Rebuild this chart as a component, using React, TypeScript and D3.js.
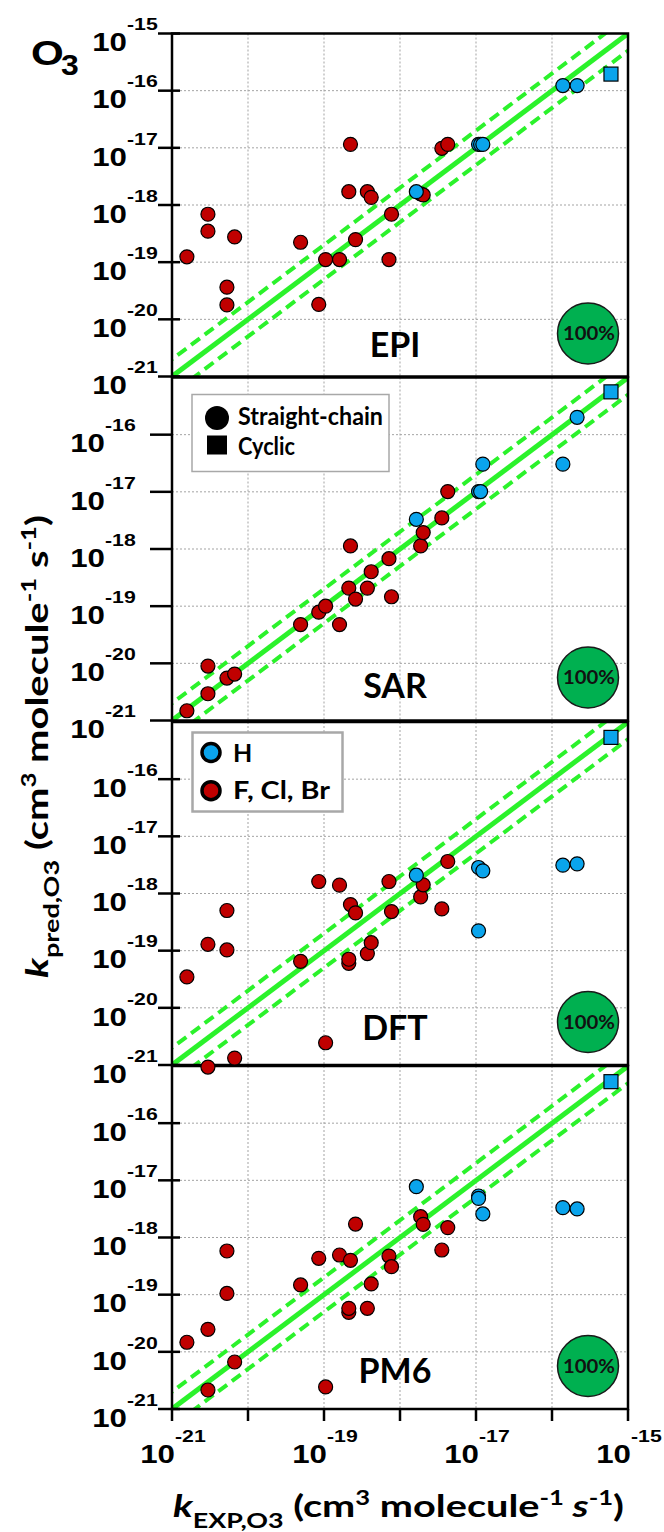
import React from "react";
import * as d3 from "d3";

// ---------- data (k in cm3 molecule-1 s-1) ----------
const panelNames = ["EPI", "SAR", "DFT", "PM6"];
const xTickExps = [-21, -20, -19, -18, -17, -16, -15];
const xLabelExps = [-21, -19, -17, -15];
const gridExps = [-20, -19, -18, -17, -16];
const badgeText = "100%";
const legendShape = ["Straight-chain", "Cyclic"];
const legendSubst = ["H", "F, Cl, Br"];

// [kEXP, kPRED]
const epiRed: [number, number][] = [
  [1.57e-21, 1.24e-19], [2.97e-21, 6.89e-19], [2.97e-21, 3.48e-19], [5.28e-21, 3.65e-20],
  [5.28e-21, 1.79e-20], [6.67e-21, 2.76e-19], [4.92e-20, 2.23e-19], [8.53e-20, 1.82e-20],
  [1.05e-19, 1.11e-19], [1.6e-19, 1.11e-19], [2.12e-19, 1.71e-18], [2.23e-19, 1.15e-17],
  [2.6e-19, 2.48e-19], [3.72e-19, 1.71e-18], [4.18e-19, 1.36e-18], [7.16e-19, 1.11e-19],
  [7.73e-19, 6.89e-19], [1.87e-18, 1.56e-18], [2.02e-18, 1.5e-18], [3.55e-18, 9.8e-18],
  [4.25e-18, 1.15e-17],
];
const epiBlue: [number, number][] = [
  [1.64e-18, 1.71e-18], [1.08e-17, 1.15e-17], [1.15e-17, 1.15e-17], [1.23e-17, 1.15e-17],
  [1.39e-16, 1.23e-16], [2.14e-16, 1.23e-16],
];
const epiCyclic: [number, number][] = [[5.97e-16, 1.95e-16]];

const sarRed: [number, number][] = [
  [1.57e-21, 1.48e-21], [2.97e-21, 8.97e-21], [2.97e-21, 2.94e-21], [5.28e-21, 5.53e-21],
  [6.67e-21, 6.5e-21], [4.92e-20, 4.76e-20], [8.53e-20, 7.85e-20], [1.05e-19, 1.0e-19],
  [1.6e-19, 4.76e-20], [2.12e-19, 2.07e-19], [2.23e-19, 1.13e-18], [2.6e-19, 1.33e-19],
  [3.72e-19, 2.07e-19], [4.18e-19, 4.0e-19], [7.16e-19, 6.76e-19], [7.73e-19, 1.46e-19],
  [1.87e-18, 1.13e-18], [2.02e-18, 1.94e-18], [3.55e-18, 3.5e-18], [4.25e-18, 1.01e-17],
];
const sarBlue: [number, number][] = [
  [1.64e-18, 3.31e-18], [1.08e-17, 1.01e-17], [1.15e-17, 1.01e-17], [1.23e-17, 3.05e-17],
  [1.39e-16, 3.05e-17], [2.14e-16, 2.01e-16],
];
const sarCyclic: [number, number][] = [[5.97e-16, 5.61e-16]];

const dftRed: [number, number][] = [
  [1.57e-21, 3.47e-20], [2.97e-21, 1.29e-19], [2.97e-21, 9.2e-22], [5.28e-21, 5.04e-19],
  [5.28e-21, 1.03e-19], [6.67e-21, 1.32e-21], [4.92e-20, 6.52e-20], [8.53e-20, 1.62e-18],
  [1.05e-19, 2.45e-21], [1.6e-19, 1.4e-18], [2.23e-19, 6.41e-19], [2.12e-19, 6.01e-20],
  [2.12e-19, 7.08e-20], [2.6e-19, 4.58e-19], [3.72e-19, 8.89e-20], [4.18e-19, 1.38e-19],
  [7.16e-19, 1.62e-18], [7.73e-19, 4.83e-19], [1.87e-18, 8.73e-19], [2.02e-18, 1.42e-18],
  [3.55e-18, 5.38e-19], [4.25e-18, 3.63e-18],
];
const dftBlue: [number, number][] = [
  [1.64e-18, 2.09e-18], [1.08e-17, 2.85e-18], [1.23e-17, 2.49e-18], [1.08e-17, 2.22e-19],
  [1.39e-16, 3.13e-18], [2.14e-16, 3.3e-18],
];
const dftCyclic: [number, number][] = [[5.97e-16, 5.38e-16]];

const pm6Red: [number, number][] = [
  [1.57e-21, 1.47e-20], [2.97e-21, 2.48e-20], [2.97e-21, 2.15e-21], [5.28e-21, 5.81e-19],
  [5.28e-21, 1.05e-19], [6.67e-21, 6.64e-21], [4.92e-20, 1.48e-19], [8.53e-20, 4.32e-19],
  [1.05e-19, 2.43e-21], [1.6e-19, 4.94e-19], [2.12e-19, 4.91e-20], [2.12e-19, 5.77e-20],
  [2.23e-19, 3.99e-19], [2.6e-19, 1.72e-18], [3.72e-19, 5.77e-20], [4.18e-19, 1.54e-19],
  [7.16e-19, 4.74e-19], [7.73e-19, 3.09e-19], [1.87e-18, 2.31e-18], [2.02e-18, 1.7e-18],
  [3.55e-18, 6.04e-19], [4.25e-18, 1.49e-18],
];
const pm6Blue: [number, number][] = [
  [1.64e-18, 7.74e-18], [1.08e-17, 5.32e-18], [1.08e-17, 4.84e-18], [1.23e-17, 2.58e-18],
  [1.39e-16, 3.33e-18], [2.14e-16, 3.16e-18],
];
const pm6Cyclic: [number, number][] = [[5.97e-16, 5.32e-16]];

const redSets = [epiRed, sarRed, dftRed, pm6Red];
const blueSets = [epiBlue, sarBlue, dftBlue, pm6Blue];
const cyclicSets = [epiCyclic, sarCyclic, dftCyclic, pm6Cyclic];
const bandFactor = 2;

// ---------- layout / style ----------
const W = 664;
const H = 1532;
const X0 = 172;
const X1 = 628;
const PH = 343;
const panelTops = [33.5, 377.5, 722, 1066];
const labelDy = [323.5, 320.5, 318, 317];
const RED = "#c00000";
const BLUE = "#0aa4ec";
const GREEN = "#2bf22b";
const BADGE = "#00b050";
const ARIAL = "'Liberation Sans', Arial, sans-serif";
const CAL = "Lato, 'Open Sans', sans-serif";

const xScale = d3.scaleLog().domain([1e-21, 1e-15]).range([X0, X1]);
const yScaleFor = (i: number) =>
  d3.scaleLog().domain([1e-21, 1e-15]).range([panelTops[i] + PH, panelTops[i]]);

function Pow({ x, y, exp }: { x: number; y: number; exp: number }) {
  return (
    <g fontFamily={ARIAL} fontWeight="bold" fill="#000">
      <text transform={`translate(${x},${y}) scale(1.25,1)`} textAnchor="end" fontSize={25}>
        10
      </text>
      <text transform={`translate(${x},${y - 21}) scale(1.25,1)`} textAnchor="start" fontSize={17}>
        {String(exp)}
      </text>
    </g>
  );
}

function Panel({ i }: { i: number }) {
  const top = panelTops[i];
  const bottom = top + PH;
  const y = yScaleFor(i);
  const clipId = `clip${i}`;
  const line = d3
    .line<[number, number]>()
    .x((d) => xScale(d[0]))
    .y((d) => y(d[1]));
  const yExps = i === 0 ? [-15, -16, -17, -18, -19, -20, -21] : [-16, -17, -18, -19, -20, -21];
  const labX = i === 1 ? 105 : 127;
  const tick = i === 1 ? [150, 172] : [158, 180];
  const cy = top + 300;
  return (
    <g>
      <defs>
        <clipPath id={clipId}>
          <rect x={X0} y={top} width={X1 - X0} height={PH} />
        </clipPath>
      </defs>
      {/* grid */}
      <g stroke="#a3a3a3" strokeWidth={1} strokeDasharray="2,2">
        {gridExps.map((e) => (
          <line key={"v" + e} x1={xScale(10 ** e)} x2={xScale(10 ** e)} y1={top} y2={bottom} />
        ))}
        {gridExps.map((e) => (
          <line key={"h" + e} x1={X0} x2={X1} y1={y(10 ** e)} y2={y(10 ** e)} />
        ))}
      </g>
      {/* 1:1 and factor lines */}
      <g clipPath={`url(#${clipId})`} fill="none" stroke={GREEN}>
        <path d={line([[1e-22, 1e-22], [1e-14, 1e-14]]) || ""} strokeWidth={5} />
        <path
          d={line([[1e-22, 1e-22 * bandFactor], [1e-14, 1e-14 * bandFactor]]) || ""}
          strokeWidth={4}
          strokeDasharray="11,6"
        />
        <path
          d={line([[1e-22, 1e-22 / bandFactor], [1e-14, 1e-14 / bandFactor]]) || ""}
          strokeWidth={4}
          strokeDasharray="11,6"
        />
      </g>
      {/* legends */}
      {i === 1 && (
        <g>
          <rect x={192} y={394.5} width={197} height={77} fill="#fff" stroke="#a8a8a8" strokeWidth={1.5} />
          <circle cx={217} cy={418} r={12} fill="#000" />
          <rect x={207} y={435.5} width={20} height={19} fill="#000" />
          <g fontFamily={CAL} fontWeight="bold" fontSize={24} fill="#000">
            <text x={238} y={425} textLength={145} lengthAdjust="spacingAndGlyphs">
              {legendShape[0]}
            </text>
            <text x={238} y={455} textLength={57} lengthAdjust="spacingAndGlyphs">
              {legendShape[1]}
            </text>
          </g>
        </g>
      )}
      {i === 2 && (
        <g>
          <rect x={192.5} y={732.5} width={150} height={79} fill="#fff" stroke="#a8a8a8" strokeWidth={2.5} />
          <circle cx={211} cy={752.5} r={9} fill={BLUE} stroke="#000" strokeWidth={3.5} />
          <circle cx={211} cy={790.7} r={9} fill={RED} stroke="#000" strokeWidth={3.5} />
          <g fontFamily={CAL} fontWeight="bold" fontSize={25} fill="#000">
            <text x={233} y={761.5}>
              {legendSubst[0]}
            </text>
            <text x={233} y={799} textLength={97} lengthAdjust="spacingAndGlyphs">
              {legendSubst[1]}
            </text>
          </g>
        </g>
      )}
      {/* panel label */}
      <text
        x={395}
        y={top + labelDy[i]}
        textAnchor="middle"
        fontFamily={CAL}
        fontWeight="bold"
        fontSize={34}
        fill="#000"
      >
        {panelNames[i]}
      </text>
      {/* badge */}
      <circle cx={588} cy={cy} r={30.5} fill={BADGE} stroke="#1a1a1a" strokeWidth={1.5} />
      <text
        x={589}
        y={cy + 6.5}
        textAnchor="middle"
        fontFamily={CAL}
        fontWeight="bold"
        fontSize={18}
        fill="#111"
        textLength={52}
        lengthAdjust="spacingAndGlyphs"
      >
        {badgeText}
      </text>
      {/* border */}
      <rect x={X0} y={top} width={X1 - X0} height={PH} fill="none" stroke="#000" strokeWidth={2.5} />
      {/* y ticks */}
      <g stroke="#000" strokeWidth={2.5}>
        {yExps.map((e) => (
          <line key={"t" + e} x1={tick[0]} x2={tick[1]} y1={y(10 ** e)} y2={y(10 ** e)} />
        ))}
      </g>
      {yExps.map((e) => (
        <Pow key={"l" + e} x={labX} y={y(10 ** e) + 17.7} exp={e} />
      ))}
    </g>
  );
}

function Marks({ i }: { i: number }) {
  const y = yScaleFor(i);
  return (
    <g stroke="#000" strokeWidth={1.2}>
      {redSets[i].map((d, k) => (
        <circle key={"r" + k} cx={xScale(d[0])} cy={y(d[1])} r={7} fill={RED} />
      ))}
      {blueSets[i].map((d, k) => (
        <circle key={"b" + k} cx={xScale(d[0])} cy={y(d[1])} r={7} fill={BLUE} />
      ))}
      {cyclicSets[i].map((d, k) => (
        <rect key={"c" + k} x={xScale(d[0]) - 7} y={y(d[1]) - 7} width={14} height={14} fill={BLUE} />
      ))}
    </g>
  );
}

export default function App() {
  const bottom = panelTops[3] + PH;
  return (
    <svg
      width={W}
      height={H}
      viewBox={`0 0 ${W} ${H}`}
      style={{ position: "absolute", left: 0, top: 0, background: "#fff" }}
    >
      <rect x={0} y={0} width={W} height={H} fill="#fff" />
      {panelNames.map((_, i) => (
        <Panel key={i} i={i} />
      ))}
      {panelNames.map((_, i) => (
        <Marks key={"m" + i} i={i} />
      ))}
      {/* x ticks */}
      <g stroke="#000" strokeWidth={2.5}>
        {xTickExps.map((e) => (
          <line key={e} x1={xScale(10 ** e)} x2={xScale(10 ** e)} y1={bottom} y2={bottom + 12} />
        ))}
      </g>
      {xLabelExps.map((e) => (
        <Pow key={e} x={xScale(10 ** e) + 3} y={1463} exp={e} />
      ))}
      {/* O3 */}
      <g fontFamily={ARIAL} fontWeight="bold" fill="#000">
        <text transform="translate(31,65) scale(1.17,1)" fontSize={36}>
          O
        </text>
        <text transform="translate(61,75) scale(1.1,1)" fontSize={29}>
          3
        </text>
      </g>
      {/* x title */}
      <text
        x={398.5}
        y={1517}
        textAnchor="middle"
        fontFamily={CAL}
        fontWeight="bold"
        fontSize={31}
        fill="#000"
        textLength={451}
        lengthAdjust="spacingAndGlyphs"
      >
        <tspan fontStyle="italic">k</tspan>
        <tspan fontSize={21} dy={11}>EXP,O3</tspan>
        <tspan dy={-11}> (cm</tspan>
        <tspan fontSize={20} dy={-12}>3</tspan>
        <tspan dy={12}> molecule</tspan>
        <tspan fontSize={20} dy={-12}>-1</tspan>
        <tspan dy={12} fontStyle="italic"> s</tspan>
        <tspan fontSize={20} dy={-12}>-1</tspan>
        <tspan dy={12}>)</tspan>
      </text>
      {/* y title */}
      <text
        transform="translate(48,746.5) rotate(-90)"
        textAnchor="middle"
        fontFamily={CAL}
        fontWeight="bold"
        fontSize={31}
        fill="#000"
        textLength={463}
        lengthAdjust="spacingAndGlyphs"
      >
        <tspan fontStyle="italic">k</tspan>
        <tspan fontSize={21} dy={11}>pred,O3</tspan>
        <tspan dy={-11}> (cm</tspan>
        <tspan fontSize={20} dy={-12}>3</tspan>
        <tspan dy={12}> molecule</tspan>
        <tspan fontSize={20} dy={-12}>-1</tspan>
        <tspan dy={12}> s</tspan>
        <tspan fontSize={20} dy={-12}>-1</tspan>
        <tspan dy={12}>)</tspan>
      </text>
    </svg>
  );
}
